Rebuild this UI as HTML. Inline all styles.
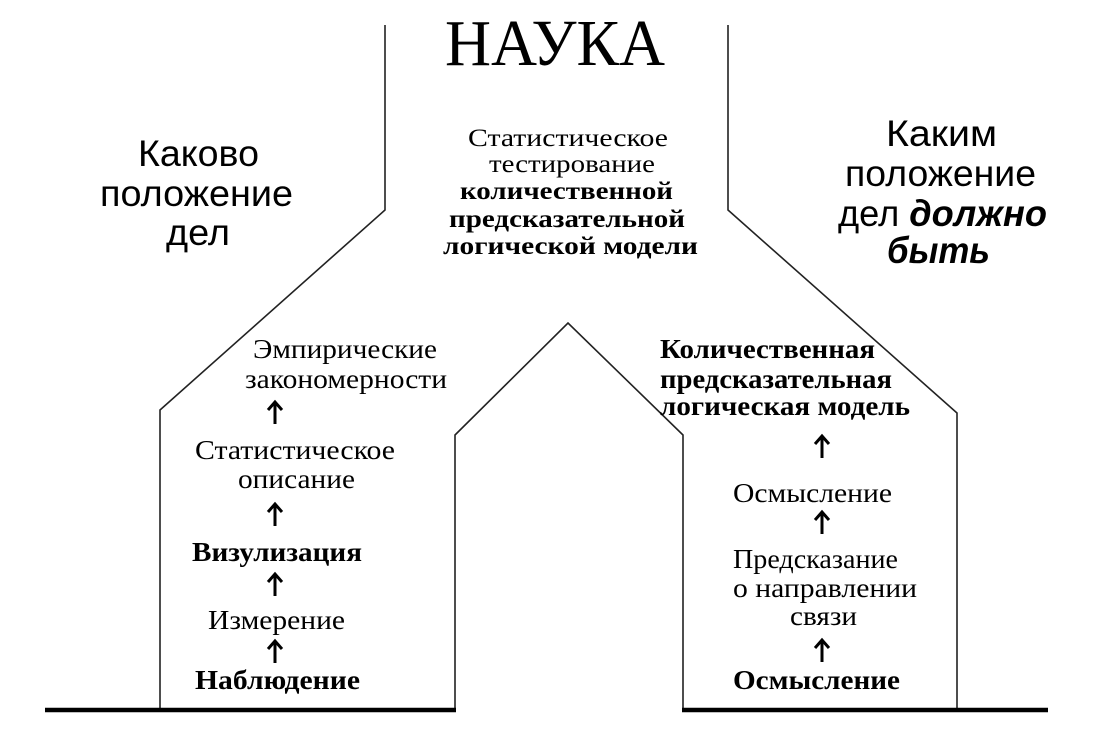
<!DOCTYPE html>
<html><head><meta charset="utf-8"><style>html,body{margin:0;padding:0;background:#fff}svg{display:block}</style></head>
<body>
<svg width="1103" height="752" viewBox="0 0 1103 752" xmlns="http://www.w3.org/2000/svg">
<g fill="none" stroke="#222" stroke-width="1.6">
<polyline points="385,25 385,210 160,410 160,708"/>
<polyline points="455,708 455,435 568,323 683,435 683,708"/>
<polyline points="728,25 728,210 957,413 957,708"/>
</g>
<g stroke="#000" stroke-width="4.5">
<line x1="45" y1="710" x2="456" y2="710"/>
<line x1="682" y1="710" x2="1048" y2="710"/>
</g>
<g fill="#000" font-family="Liberation Serif, serif">
<text x="445" y="65" font-size="66" textLength="220" lengthAdjust="spacingAndGlyphs">НАУКА</text>
<g font-size="25">
<text x="468" y="146" textLength="200" lengthAdjust="spacingAndGlyphs">Статистическое</text>
<text x="489" y="172" textLength="166" lengthAdjust="spacingAndGlyphs">тестирование</text>
<text x="460" y="199" font-weight="bold" textLength="213" lengthAdjust="spacingAndGlyphs">количественной</text>
<text x="449" y="227" font-weight="bold" textLength="236" lengthAdjust="spacingAndGlyphs">предсказательной</text>
<text x="443" y="254" font-weight="bold" textLength="255" lengthAdjust="spacingAndGlyphs">логической модели</text>
</g>
<g font-size="27">
<text x="253" y="358" textLength="184" lengthAdjust="spacingAndGlyphs">Эмпирические</text>
<text x="245" y="388" textLength="202" lengthAdjust="spacingAndGlyphs">закономерности</text>
<text x="195" y="459" textLength="200" lengthAdjust="spacingAndGlyphs">Статистическое</text>
<text x="238" y="488" textLength="117" lengthAdjust="spacingAndGlyphs">описание</text>
<text x="192" y="561" font-weight="bold" textLength="170" lengthAdjust="spacingAndGlyphs">Визулизация</text>
<text x="208" y="629" textLength="137" lengthAdjust="spacingAndGlyphs">Измерение</text>
<text x="195" y="689" font-weight="bold" textLength="165" lengthAdjust="spacingAndGlyphs">Наблюдение</text>
<text x="660" y="358" font-weight="bold" textLength="215" lengthAdjust="spacingAndGlyphs">Количественная</text>
<text x="660" y="388" font-weight="bold" textLength="232" lengthAdjust="spacingAndGlyphs">предсказательная</text>
<text x="660" y="415" font-weight="bold" textLength="250" lengthAdjust="spacingAndGlyphs">логическая модель</text>
<text x="733" y="502" textLength="159" lengthAdjust="spacingAndGlyphs">Осмысление</text>
<text x="733" y="568" textLength="165" lengthAdjust="spacingAndGlyphs">Предсказание</text>
<text x="733" y="597" textLength="184" lengthAdjust="spacingAndGlyphs">о направлении</text>
<text x="790" y="625" textLength="67" lengthAdjust="spacingAndGlyphs">связи</text>
<text x="733" y="689" font-weight="bold" textLength="167" lengthAdjust="spacingAndGlyphs">Осмысление</text>
</g>
</g>
<g fill="#000" font-family="Liberation Sans, sans-serif" font-size="37">
<text x="138" y="166" textLength="121" lengthAdjust="spacingAndGlyphs">Каково</text>
<text x="100" y="206" textLength="193" lengthAdjust="spacingAndGlyphs">положение</text>
<text x="166" y="245" textLength="64" lengthAdjust="spacingAndGlyphs">дел</text>
<text x="886" y="146" textLength="111" lengthAdjust="spacingAndGlyphs">Каким</text>
<text x="845" y="186" textLength="191" lengthAdjust="spacingAndGlyphs">положение</text>
<text x="838" y="226" textLength="209" lengthAdjust="spacingAndGlyphs">дел <tspan font-weight="bold" font-style="italic">должно</tspan></text>
<text x="887" y="263" font-weight="bold" font-style="italic" textLength="103" lengthAdjust="spacingAndGlyphs">быть</text>
</g>
<g stroke="#000" stroke-width="3" fill="none">
<path d="M275,424 V402 M268,410 L275,402 L282,410"/>
<path d="M275,526 V504 M268,512 L275,504 L282,512"/>
<path d="M275,596 V574 M268,582 L275,574 L282,582"/>
<path d="M275,663 V641 M268,649 L275,641 L282,649"/>
<path d="M822,458 V436 M815,444 L822,436 L829,444"/>
<path d="M822,534 V512 M815,520 L822,512 L829,520"/>
<path d="M822,662 V640 M815,648 L822,640 L829,648"/>
</g>
</svg>
</body></html>
